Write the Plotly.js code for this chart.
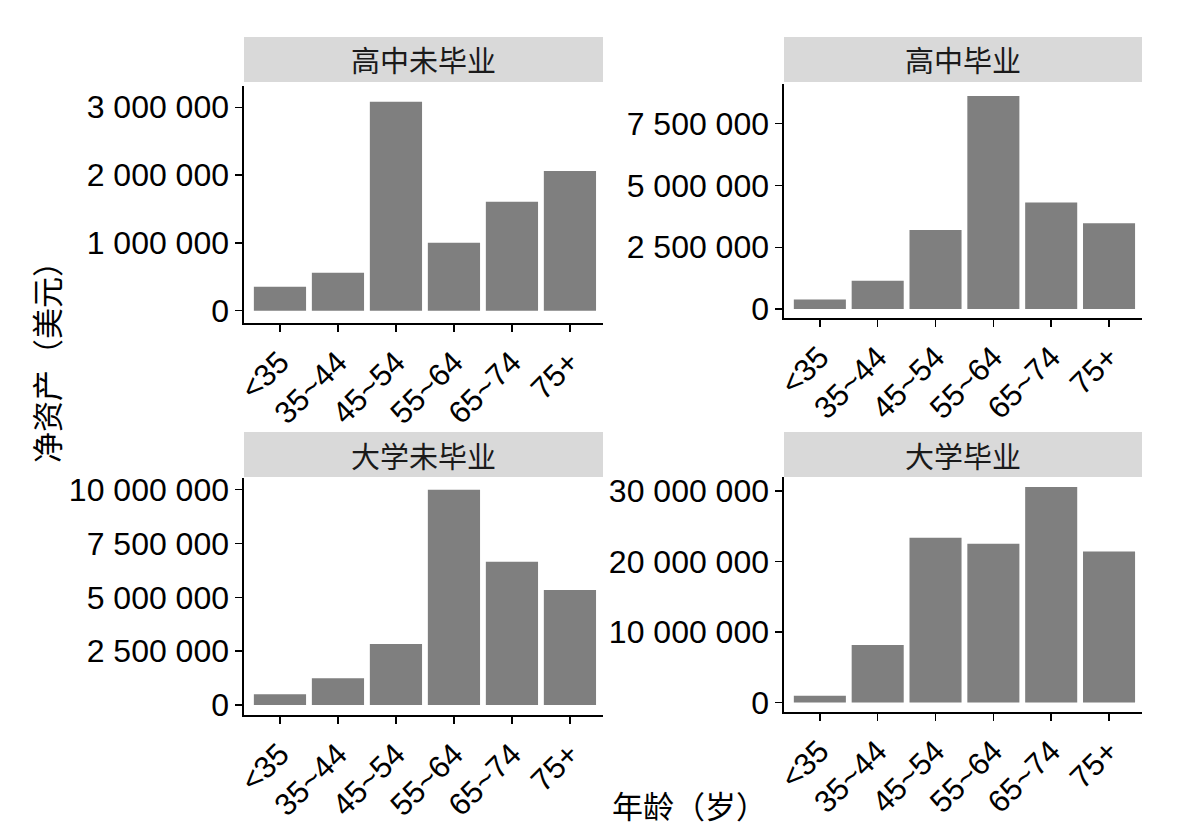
<!DOCTYPE html>
<html>
<head>
<meta charset="utf-8">
<script src="https://cdn.plot.ly/plotly-3.0.1.min.js"></script>
<style>
  html, body { margin: 0; padding: 0; background: #fff; }
  #chart { width: 1180px; height: 838px; }
</style>
</head>
<body>
<div id="chart"></div>
<script>
// age groups, shared by every panel
var ageGroups = ['<35', '35~44', '45~54', '55~64', '65~74', '75+']

// panel titles (education level)
var panelTitles = ['高中未毕业', '高中毕业', '大学未毕业', '大学毕业']

// net worth (USD) per age group
var noHighSchool   = [353000, 560000, 3080000, 1000000, 1605000, 2060000]
var highSchool     = [388000, 1150000, 3200000, 8620000, 4310000, 3470000]
var someCollege    = [497000, 1240000, 2830000, 10000000, 6650000, 5340000]
var collegeGrad    = [940000, 8130000, 23370000, 22520000, 30560000, 21390000]

var seriesList = [noHighSchool, highSchool, someCollege, collegeGrad]

// y ranges and tick steps, one per panel
var yRanges = [[-182000, 3314000], [-362000, 9107000], [-466000, 10540000], [-1360000, 31970000]]
var yDticks = [1000000, 2500000, 2500000, 10000000]

var W = 1180, H = 838
var barColor = '#7f7f7f'
var stripColor = '#d9d9d9'
var numFont = 'Liberation Sans, Arial, sans-serif'
var cjkFont = 'Noto Sans CJK SC, sans-serif'

// panel boxes in pixels: [left, right, top, bottom]
var boxes = [
    [244, 603, 86, 323],
    [784, 1142, 84, 318],
    [244, 603, 478, 715],
    [784, 1142, 477, 712],
]
var strips = [[37, 82], [37, 82], [432, 477], [432, 477]]

var px = function (v) { return v / W }
var py = function (v) { return 1 - v / H }

var data = []
var layout = {
    width: W,
    height: H,
    autosize: false,
    showlegend: false,
    margin: {l: 0, r: 0, t: 0, b: 0},
    paper_bgcolor: '#fff',
    plot_bgcolor: '#fff',
    bargap: 0.1,
    separators: '. ',
    shapes: [],
    annotations: [],
}

for (var i = 0; i < 4; i++) {
    var n = i + 1
    var sfx = (n == 1 ? '' : n)
    var b = boxes[i]

    data.push({
        type: 'bar',
        x: ageGroups,
        y: seriesList[i],
        xaxis: 'x' + sfx,
        yaxis: 'y' + sfx,
        marker: {color: barColor, line: {width: 0}},
        hoverinfo: 'x+y',
    })

    layout['xaxis' + sfx] = {
        domain: [px(b[0]), px(b[1])],
        anchor: 'y' + sfx,
        range: [-0.62, 5.57],
        showline: true,
        linecolor: '#000',
        linewidth: 1.6,
        ticks: 'outside',
        ticklen: 7,
        tickwidth: 1.4,
        tickcolor: '#000',
        tickangle: -45,
        showgrid: false,
        zeroline: false,
        tickfont: {family: numFont, size: 31, color: '#000'},
        fixedrange: true,
    }
    layout['yaxis' + sfx] = {
        domain: [py(b[3]), py(b[2])],
        anchor: 'x' + sfx,
        range: yRanges[i],
        dtick: yDticks[i],
        tick0: 0,
        tickformat: ',d',
        showline: true,
        linecolor: '#000',
        linewidth: 1.6,
        ticks: 'outside',
        ticklen: 7,
        tickwidth: 1.4,
        tickcolor: '#000',
        showgrid: false,
        zeroline: false,
        tickfont: {family: numFont, size: 32, color: '#000'},
        fixedrange: true,
    }

    // facet strip
    layout.shapes.push({
        type: 'rect', xref: 'paper', yref: 'paper',
        x0: px(b[0]), x1: px(b[1]),
        y0: py(strips[i][1]), y1: py(strips[i][0]),
        fillcolor: stripColor, line: {width: 0}, layer: 'below',
    })
    layout.annotations.push({
        xref: 'paper', yref: 'paper',
        x: px((b[0] + b[1]) / 2), y: py((strips[i][0] + strips[i][1]) / 2),
        xanchor: 'center', yanchor: 'middle',
        text: panelTitles[i], showarrow: false,
        font: {family: cjkFont, size: 29, color: '#1a1a1a'},
    })
}

// shared axis titles
layout.annotations.push({
    xref: 'paper', yref: 'paper', x: px(45), y: py(355),
    xanchor: 'center', yanchor: 'middle', textangle: -90,
    text: '净资产（美元）', showarrow: false,
    font: {family: cjkFont, size: 31, color: '#000'},
})
layout.annotations.push({
    xref: 'paper', yref: 'paper', x: px(689), y: py(804),
    xanchor: 'center', yanchor: 'middle',
    text: '年龄（岁）', showarrow: false,
    font: {family: cjkFont, size: 31, color: '#000'},
})

Plotly.newPlot('chart', data, layout, {displayModeBar: false, staticPlot: true})
</script>
</body>
</html>
